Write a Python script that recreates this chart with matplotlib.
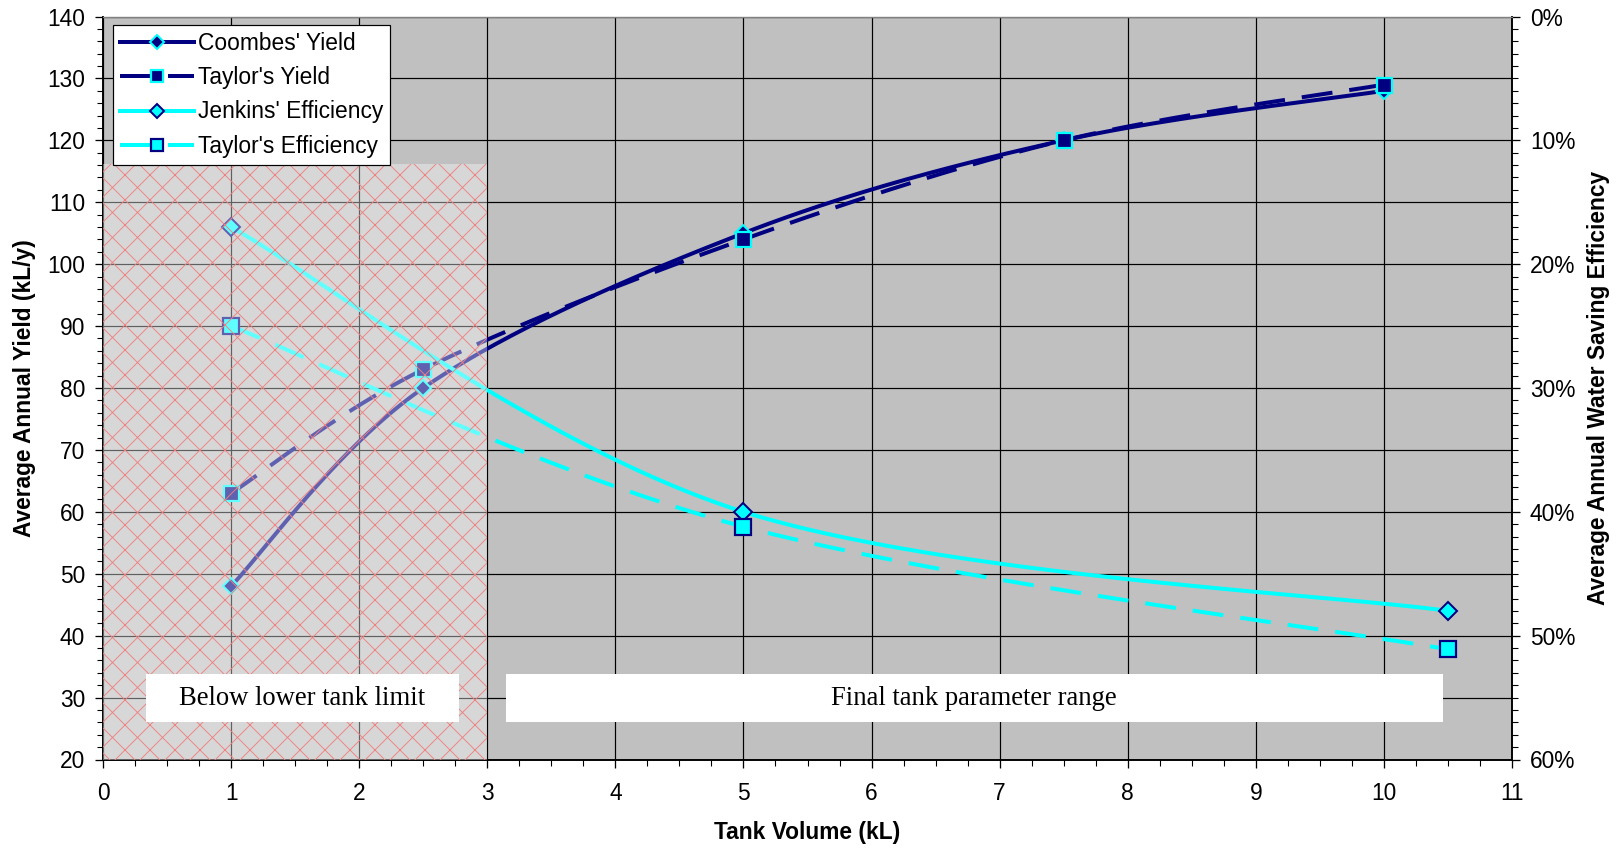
import numpy as np
import matplotlib
matplotlib.use("Agg")
import matplotlib.pyplot as plt
from matplotlib.patches import Rectangle
from matplotlib.ticker import MultipleLocator, FixedLocator, FixedFormatter

# ---------------- data ----------------
coombes_x = [1, 2.5, 5, 7.5, 10]
coombes_yield = [48, 80, 105, 120, 128]

taylor_yield_x = [1, 2.5, 5, 7.5, 10]
taylor_yield = [63, 83, 104, 120, 129]

jenkins_x = [1, 5, 10.5]
jenkins_eff = [17, 40, 48]

taylor_eff_x = [1, 5, 10.5]
taylor_eff = [25, 41.2, 51.1]

eff_ticks = [0, 10, 20, 30, 40, 50, 60]
eff_labels = ["0%", "10%", "20%", "30%", "40%", "50%", "60%"]

legend_labels = ["Coombes' Yield", "Taylor's Yield", "Jenkins' Efficiency", "Taylor's Efficiency"]
x_label = "Tank Volume (kL)"
y_label = "Average Annual Yield (kL/y)"
y2_label = "Average Annual Water Saving Efficiency"
box_texts = ["Below lower tank limit", "Final tank parameter range"]

# ---------------- style ----------------
DPI = 75
def pt(px):
    return px * 72.0 / DPI

NAVY = "#000080"
CYAN = "#00FFFF"
SANS = ["Liberation Sans", "DejaVu Sans"]
SERIF = ["Liberation Serif", "DejaVu Serif"]

plt.rcParams["font.family"] = SANS
plt.rcParams["lines.scale_dashes"] = False
plt.rcParams["hatch.linewidth"] = pt(0.9)

FS = pt(22.7)

fig = plt.figure(figsize=(1619 / DPI, 850 / DPI), dpi=DPI)
fig.patch.set_facecolor("white")
ax = fig.add_axes([103 / 1619, 1 - 759.5 / 850, (1512 - 103) / 1619, (759.5 - 16.5) / 850])
ax.set_facecolor("#C0C0C0")
ax2 = ax.twinx()


def smooth(xs, ys, n=60):
    P = np.column_stack([np.asarray(xs, float), np.asarray(ys, float)])
    out = []
    for i in range(len(P) - 1):
        p0, p3 = P[i], P[i + 1]
        prev = P[i - 1] if i > 0 else P[i]
        nxt = P[i + 2] if i + 2 < len(P) else P[i + 1]
        c1 = p0 + (p3 - prev) / 6.0
        c2 = p3 - (nxt - p0) / 6.0
        t = np.linspace(0, 1, n)[:, None]
        seg = (1 - t) ** 3 * p0 + 3 * (1 - t) ** 2 * t * c1 + 3 * (1 - t) * t ** 2 * c2 + t ** 3 * p3
        out.append(seg if i == 0 else seg[1:])
    S = np.vstack(out)
    marks = [i * (n - 1) for i in range(len(P))]
    return S[:, 0], S[:, 1], marks


LW = pt(4)
DASH = (pt(31), pt(17))

# yield series (left axis)
sx, sy, mk = smooth(coombes_x, coombes_yield)
h1, = ax.plot(sx, sy, color=NAVY, lw=LW, marker="D", markevery=mk, ms=pt(12),
              mfc=NAVY, mec=CYAN, mew=pt(2), label=legend_labels[0], zorder=3,
              solid_joinstyle="round")
sx, sy, mk = smooth(taylor_yield_x, taylor_yield)
h2, = ax.plot(sx, sy, color=NAVY, lw=LW, ls=(0, DASH), marker="s", markevery=mk, ms=pt(15),
              mfc=NAVY, mec=CYAN, mew=pt(2.2), label=legend_labels[1], zorder=4)

# efficiency series (right axis)
sx, sy, mk = smooth(jenkins_x, jenkins_eff)
h3, = ax2.plot(sx, sy, color=CYAN, lw=LW, marker="D", markevery=mk, ms=pt(12.5),
               mfc=CYAN, mec=NAVY, mew=pt(2), label=legend_labels[2], zorder=3)
sx, sy, mk = smooth(taylor_eff_x, taylor_eff)
h4, = ax2.plot(sx, sy, color=CYAN, lw=LW, ls=(0, DASH), marker="s", markevery=mk, ms=pt(15.5),
               mfc=CYAN, mec=NAVY, mew=pt(2.2), label=legend_labels[3], zorder=4)

# axes limits
ax.set_xlim(0, 11)
ax.set_ylim(20, 140)
ax2.set_ylim(60, 0)

# ticks
ax.xaxis.set_major_locator(MultipleLocator(1))
ax.xaxis.set_minor_locator(MultipleLocator(0.25))
ax.yaxis.set_major_locator(MultipleLocator(10))
ax.yaxis.set_minor_locator(MultipleLocator(2))
ax2.yaxis.set_major_locator(FixedLocator(eff_ticks))
ax2.yaxis.set_major_formatter(FixedFormatter(eff_labels))
ax2.yaxis.set_minor_locator(MultipleLocator(1))

ax.tick_params(axis="x", which="major", direction="out", length=pt(8), width=pt(1.3),
               labelsize=FS, pad=pt(15), colors="black")
ax.tick_params(axis="x", which="minor", direction="out", length=pt(6), width=pt(1.1))
ax.tick_params(axis="y", which="major", direction="out", length=pt(8), width=pt(1.3),
               labelsize=FS, pad=pt(10))
ax.tick_params(axis="y", which="minor", direction="out", length=pt(6), width=pt(1.1))
ax2.tick_params(axis="y", which="major", direction="out", length=pt(8), width=pt(1.3),
                labelsize=FS, pad=pt(10))
ax2.tick_params(axis="y", which="minor", direction="out", length=pt(6), width=pt(1.1))

# grid
ax.set_axisbelow(True)
ax.grid(True, which="major", color="black", lw=pt(1.2))

# spines
for a in (ax, ax2):
    for s in ("left", "bottom", "right"):
        a.spines[s].set_color("black")
        a.spines[s].set_linewidth(pt(1.6))
    a.spines["top"].set_color("#808080")
    a.spines["top"].set_linewidth(pt(1.2))

# labels
ax.set_xlabel(x_label, fontsize=FS, fontweight="bold")
ax.xaxis.set_label_coords(0.5, (759.5 - 832) / 743)
ax.xaxis.label.set_va("center")
ax.set_ylabel(y_label, fontsize=FS, fontweight="bold")
ax.yaxis.set_label_coords((25 - 103) / 1409, 0.5)
ax.yaxis.label.set_va("center")
ax2.set_ylabel(y2_label, fontsize=FS, fontweight="bold", rotation=90)
ax2.yaxis.set_label_coords((1598 - 103) / 1409, 0.5)
ax2.yaxis.label.set_va("center")

# hatched region (below lower tank limit) drawn over the series
hatch = Rectangle((0, 20), 3, 96.2, transform=ax.transData, facecolor=(1, 1, 1, 0.38),
                  edgecolor="#EE8080", lw=0, hatch="x", zorder=6)
ax2.add_patch(hatch)

# text boxes
b1 = Rectangle((0.335, 26.0), 2.445, 7.8, transform=ax.transData, facecolor="white",
               edgecolor="none", zorder=7)
b2 = Rectangle((3.146, 26.0), 7.314, 7.8, transform=ax.transData, facecolor="white",
               edgecolor="none", zorder=7)
ax2.add_patch(b1)
ax2.add_patch(b2)
ax2.text(1.553, 29.9, box_texts[0], transform=ax.transData, ha="center", va="center",
         fontsize=pt(26.6), family=SERIF, zorder=8)
ax2.text(6.80, 29.9, box_texts[1], transform=ax.transData, ha="center", va="center",
         fontsize=pt(26.6), family=SERIF, zorder=8)

# legend
leg = ax2.legend(handles=[h1, h2, h3, h4], loc="upper left",
                 bbox_to_anchor=(0.0069, 0.9886), borderaxespad=0, fontsize=FS,
                 frameon=True, fancybox=False, shadow=False, framealpha=1,
                 edgecolor="black", numpoints=1, markerscale=0.8,
                 handlelength=3.26, handletextpad=0.2, labelspacing=0.5,
                 borderpad=0.3)
leg.get_frame().set_linewidth(pt(1.2))
leg.set_zorder(10)

fig.savefig("out.png", dpi=DPI)
